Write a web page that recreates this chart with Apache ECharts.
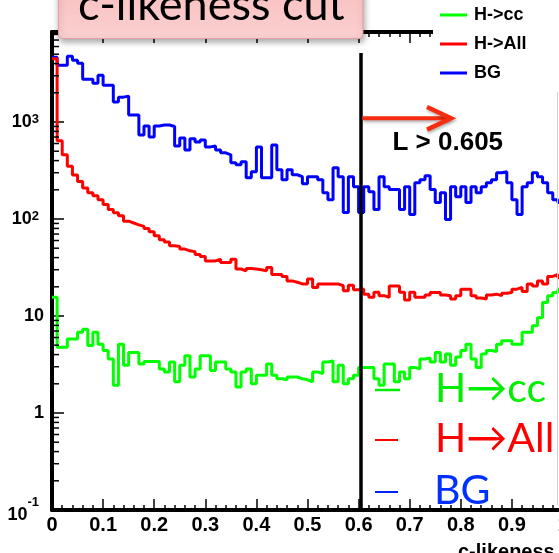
<!DOCTYPE html>
<html><head><meta charset="utf-8">
<script src="https://cdn.jsdelivr.net/npm/echarts@6/dist/echarts.min.js"></script>
<style>html,body{margin:0;padding:0;background:#fff;}#c{width:559px;height:553px;}</style>
</head><body><div id="c"></div>
<script>
// ---- data (100 bins of width 0.01 on c-likeness [0,1]) ----
const binWidth = 0.01;
const hcc = [15.6, 4.77, 4.77, 5.8, 5.8, 6.8, 7.3, 4.95, 6.8, 5.1,
 4.4, 3.6, 1.93, 5.1, 3.1, 4.2, 4.2, 3.2, 3.4, 3.4,
 3.4, 2.85, 2.65, 3.35, 2.1, 3.1, 3.9, 2.35, 2.85, 3.9,
 3.9, 2.75, 3.35, 3.35, 2.85, 2.65, 1.85, 2.65, 2.85, 2.0,
 2.45, 2.45, 3.2, 2.45, 2.25, 2.2, 2.35, 2.35, 2.25, 2.2,
 2.1, 2.65, 2.55, 3.35, 3.45, 2.1, 3.1, 2.0, 2.25, 2.45,
 2.95, 2.95, 2.95, 2.25, 1.93, 3.2, 3.2, 2.1, 2.65, 2.25,
 2.95, 2.85, 3.6, 3.7, 3.35, 4.2, 3.35, 4.05, 3.1, 3.78,
 4.4, 5.1, 3.6, 2.95, 4.05, 4.4, 4.3, 5.1, 5.55, 5.55,
 5.1, 5.1, 6.8, 6.8, 7.95, 9.6, 13.8, 16.2, 17.5, 18.9];
const hall = [4500, 640, 460, 350, 285, 244, 209, 186, 174, 158,
 141, 125, 116, 108, 95, 91, 87, 84, 80, 74,
 67, 61, 58, 53, 52, 49, 47, 46, 43, 41,
 37, 37, 38.5, 35.6, 35.6, 38.5, 30.5, 29.2, 30.8, 30.5,
 30, 29.2, 31.7, 26.8, 26.8, 25.5, 23, 22.3, 21.4, 21.4,
 24, 19.7, 21.4, 21.4, 21.4, 21.4, 20.5, 18.2, 20.8, 18.6,
 19, 16.8, 15.6, 17.6, 16.2, 15.6, 20.4, 20.4, 17.6, 14.6,
 17.6, 15.6, 15.6, 16.5, 17.5, 17.5, 16.5, 16.2, 15, 16.2,
 18.9, 18.9, 16.2, 15.3, 15, 16.5, 16.8, 16.2, 17.2, 17.5,
 18.9, 19.7, 17.9, 21.4, 20.4, 23, 21.4, 25.6, 26.8, 24.8];
const bg = [4645, 3843, 3843, 4753, 4325, 4027, 2761, 2761, 2512, 3034,
 2395, 2395, 1604, 1804, 1849, 1180, 1180, 736, 910, 702,
 910, 932, 932, 900, 567, 685, 516, 670, 623, 654,
 554, 567, 516, 481, 459, 380, 362, 389, 267, 307,
 554, 267, 267, 581, 322, 254, 322, 286, 273, 231,
 273, 273, 254, 187, 158, 337, 273, 117, 273, 215,
 117, 215, 191, 125, 273, 215, 201, 201, 125, 215,
 111, 237, 254, 279, 201, 148, 187, 99, 215, 170,
 215, 148, 215, 187, 215, 237, 254, 300, 307, 237,
 158, 111, 215, 237, 300, 273, 237, 187, 158, 148];
const yMinorTicks = [0.2,0.3,0.4,0.5,0.6,0.7,0.8,0.9, 2,3,4,5,6,7,8,9,
 20,30,40,50,60,70,80,90, 200,300,400,500,600,700,800,900, 2000,3000,4000,5000,6000,7000,8000];
const xMin = 0, xMax = 1, xStep = 0.1;
const yMin = 0.1, yMax = 8470;
const cutValue = 0.605;
const cutLineTop = 5150;
const seriesNames = ['H->cc', 'H->All', 'BG'];
const bigLegend = ['H\u2192cc', 'H\u2192All', 'BG'];

function histPoints(arr){
  const pts = arr.map((v,i)=>[+(i*binWidth).toFixed(2), v]);
  pts.push([xMax, arr[arr.length-1]]);
  return pts;
}

const chart = echarts.init(document.getElementById('c'), null, {renderer:'canvas'});
const FONT = 'Liberation Sans, Arial, sans-serif';
const BIG = 'Lato, DejaVu Sans, sans-serif';

const option = {
  animation:false,
  backgroundColor:'#fff',
  grid:{left:52, top:32, width:511, height:478, outerBoundsMode:'none', containLabel:false},
  xAxis:[{
    type:'value', min:xMin, max:xMax, interval:xStep,
    axisLine:{show:true, onZero:false, lineStyle:{color:'#000', width:4}},
    axisTick:{show:true, inside:true, length:11, lineStyle:{color:'#000', width:1.5}},
    minorTick:{show:true, splitNumber:5, length:5, lineStyle:{color:'#000', width:1.5}},
    splitLine:{show:false},
    axisLabel:{margin:5, color:'#000', fontFamily:FONT, fontWeight:'bold', fontSize:20,
      formatter:v=>String(Math.round(v*10)/10)}
  },{
    type:'value', position:'top', min:xMin, max:xMax, interval:xStep,
    axisLine:{show:true, onZero:false, lineStyle:{color:'#000', width:4}},
    axisTick:{show:true, inside:true, length:11, lineStyle:{color:'#000', width:1.5}},
    minorTick:{show:true, splitNumber:5, length:5, lineStyle:{color:'#000', width:1.5}},
    splitLine:{show:false}, axisLabel:{show:false}
  }],
  yAxis:{
    type:'log', logBase:10, min:yMin, max:yMax,
    axisLine:{show:true, onZero:false, lineStyle:{color:'#000', width:4}},
    axisTick:{show:true, inside:true, length:12, lineStyle:{color:'#000', width:1.5}},
    minorTick:{show:false}, splitLine:{show:false},
    axisLabel:{margin:8, color:'#000',
      formatter:function(v){
        const l = Math.log10(v), r = Math.round(l);
        if (Math.abs(l-r) > 1e-6) return '';
        if (r===0) return '{b|1}';
        if (r===1) return '{b|10}';
        if (r<0) return '{lo|10}{s|'+r+'}';
        return '{b|10}{s|'+r+'}';
      },
      rich:{
        b:{fontFamily:FONT, fontWeight:'bold', fontSize:18, color:'#000'},
        lo:{fontFamily:FONT, fontWeight:'bold', fontSize:18, color:'#000', padding:[10,0,0,0]},
        s:{fontFamily:FONT, fontWeight:'bold', fontSize:13, color:'#000', verticalAlign:'top', padding:[0,5,0,0]}
      }
    }
  },
  series:[
    {type:'custom', name:'minorY', silent:true, clip:false, z:5,
      data: yMinorTicks.map(v=>[xMin, v]),
      renderItem:function(params, api){
        const p = api.coord([api.value(0), api.value(1)]);
        return {type:'line', shape:{x1:p[0], y1:p[1], x2:p[0]+7, y2:p[1]}, style:{stroke:'#000', lineWidth:1.5}};
      }
    },
    {type:'line', name:seriesNames[2], data:histPoints(bg), step:'end', showSymbol:false, symbol:'none', z:2,
      lineStyle:{color:'#0000ff', width:3}, itemStyle:{color:'#0000ff'},
      markLine:{silent:true, symbol:['none','none'], label:{show:false}, animation:false,
        lineStyle:{color:'#000', width:3.5, type:'solid'},
        data:[[{coord:[cutValue, cutLineTop]}, {coord:[cutValue, yMin]}]]}
    },
    {type:'line', name:seriesNames[1], data:histPoints(hall), step:'end', showSymbol:false, symbol:'none', z:3,
      lineStyle:{color:'#ff0000', width:3}, itemStyle:{color:'#ff0000'}},
    {type:'line', name:seriesNames[0], data:histPoints(hcc), step:'end', showSymbol:false, symbol:'none', z:4,
      lineStyle:{color:'#00ff00', width:3}, itemStyle:{color:'#00ff00'}}
  ],
  graphic:[
    // ROOT legend (white box)
    {type:'rect', z:100, shape:{x:433, y:0, width:130, height:92}, style:{fill:'#fff'}},
    {type:'line', z:101, shape:{x1:440, y1:15, x2:467, y2:15}, style:{stroke:'#00ff00', lineWidth:3}},
    {type:'line', z:101, shape:{x1:440, y1:44, x2:467, y2:44}, style:{stroke:'#ff0000', lineWidth:3}},
    {type:'line', z:101, shape:{x1:440, y1:73, x2:467, y2:73}, style:{stroke:'#0000ff', lineWidth:3}},
    {type:'text', z:101, x:474, y:15, style:{text:seriesNames[0], font:'bold 18px '+FONT, fill:'#000', verticalAlign:'middle'}},
    {type:'text', z:101, x:474, y:44, style:{text:seriesNames[1], font:'bold 18px '+FONT, fill:'#000', verticalAlign:'middle'}},
    {type:'text', z:101, x:474, y:73, style:{text:seriesNames[2], font:'bold 18px '+FONT, fill:'#000', verticalAlign:'middle'}},
    // faint slide edge
    {type:'line', z:99, shape:{x1:557.5, y1:92, x2:557.5, y2:505}, style:{stroke:'#cfcfcf', lineWidth:1}},
    // pink title box
    {type:'rect', z:110, shape:{x:58.5, y:-12, width:304.5, height:50.5, r:4},
      style:{fill:new echarts.graphic.LinearGradient(0,0,0,1,[{offset:0,color:'#f9c0c0'},{offset:1,color:'#fbd0d0'}]),
        stroke:'#e3a0a0', lineWidth:1, shadowBlur:6, shadowColor:'rgba(0,0,0,0.35)', shadowOffsetX:1, shadowOffsetY:3}},
    {type:'text', z:111, x:78, y:28, style:{text:'c-likeness cut', font:'45px '+BIG, fill:'#000', verticalAlign:'bottom'}},
    // red arrow
    {type:'line', z:105, shape:{x1:362.5, y1:118.3, x2:449, y2:118.3},
      style:{stroke:'#f72d10', lineWidth:4, shadowBlur:3, shadowColor:'rgba(0,0,0,0.3)', shadowOffsetX:1, shadowOffsetY:2}},
    {type:'polyline', z:105, shape:{points:[[427,107],[451,118.3],[427,129.6]]},
      style:{stroke:'#f72d10', lineWidth:4.5, fill:null, lineJoin:'miter', shadowBlur:3, shadowColor:'rgba(0,0,0,0.3)', shadowOffsetX:1, shadowOffsetY:2}},
    {type:'text', z:105, x:392.5, y:143, style:{text:'L > 0.605', font:'bold 26px '+FONT, fill:'#000', verticalAlign:'middle'}},
    // big overlay legend
    {type:'line', z:105, shape:{x1:375, y1:390, x2:400, y2:390}, style:{stroke:'#00ee00', lineWidth:2.5}},
    {type:'line', z:105, shape:{x1:375, y1:440, x2:398, y2:440}, style:{stroke:'#ff0000', lineWidth:2}},
    {type:'line', z:105, shape:{x1:375, y1:492, x2:398, y2:492}, style:{stroke:'#0022ff', lineWidth:2}},
    {type:'text', z:106, x:435, y:389, style:{text:bigLegend[0], font:'41px '+BIG, fill:'#00ee00', verticalAlign:'middle'}},
    {type:'text', z:106, x:435, y:439, style:{text:bigLegend[1], font:'41px '+BIG, fill:'#ff0000', verticalAlign:'middle'}},
    {type:'text', z:106, x:434, y:491, style:{text:bigLegend[2], font:'41px '+BIG, fill:'#0030ff', verticalAlign:'middle'}},
    // x-axis title
    {type:'text', z:106, x:458, y:552, style:{text:'c-likeness', font:'bold 20px '+FONT, fill:'#000', verticalAlign:'middle'}}
  ]
};
chart.setOption(option);
</script></body></html>
